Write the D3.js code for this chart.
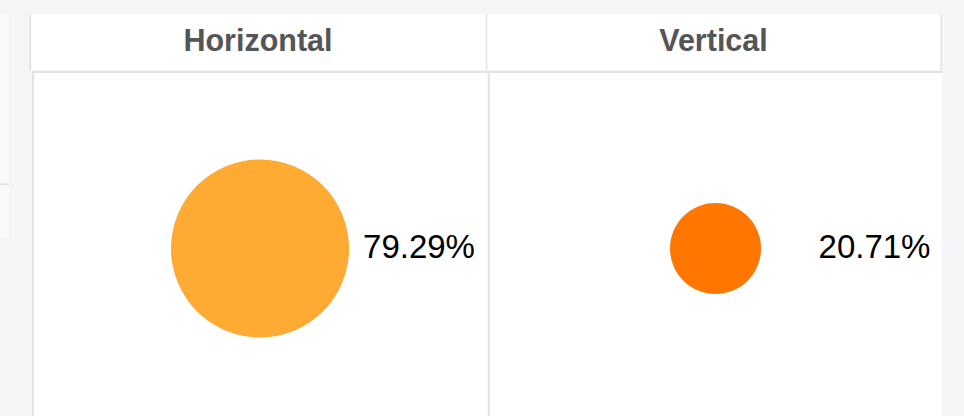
<!DOCTYPE html>
<html>
<head>
<meta charset="utf-8">
<script src="https://cdn.jsdelivr.net/npm/d3@7"></script>
<style>
  html, body { margin: 0; padding: 0; background: #f4f5f6; }
  svg { display: block; }
</style>
</head>
<body>
<div id="chart"></div>
<script>
// ---- data ----
const categories = ["Horizontal", "Vertical"];
const percents = [79.29, 20.71];
const colors = ["#FFAA33", "#FF7700"];
const labels = ["79.29%", "20.71%"];

const W = 964, H = 416;
const svg = d3.select("#chart").append("svg").attr("width", W).attr("height", H);

// page background
svg.append("rect").attr("width", W).attr("height", H).attr("fill", "#f4f5f6");

// partial left panel (cut off)
svg.append("rect").attr("x", 0).attr("y", 14).attr("width", 9).attr("height", 224).attr("fill", "#fafafa");
svg.append("rect").attr("x", 0).attr("y", 183.5).attr("width", 9).attr("height", 1.5).attr("fill", "#e2e2e2");

const x = d3.scaleBand().domain(categories).range([32.25, 943.25]).padding(0);
const r = d3.scaleSqrt().domain([0, 100]).range([0, 100]);
const maxR = r(d3.max(percents));

// header band
svg.append("rect").attr("x", 30).attr("y", 14).attr("width", 912).attr("height", 56).attr("fill", "#ffffff");
// body panel
svg.append("rect").attr("x", 32).attr("y", 71).attr("width", 910).attr("height", H - 71).attr("fill", "#ffffff");

// header borders
const lineCol = "#e3e3e3";
svg.append("rect").attr("x", 29.5).attr("y", 14).attr("width", 1.5).attr("height", 56).attr("fill", "#dcdcdc");
svg.append("rect").attr("x", 940.5).attr("y", 14).attr("width", 1.5).attr("height", 56).attr("fill", lineCol);
svg.selectAll(".hdiv").data(categories.slice(1)).enter().append("rect")
  .attr("x", d => x(d) - 2).attr("y", 14).attr("width", 1.5).attr("height", 56).attr("fill", lineCol);

// body borders
svg.append("rect").attr("x", 32).attr("y", 71).attr("width", 910).attr("height", 2).attr("fill", lineCol);
svg.append("rect").attr("x", 32).attr("y", 71).attr("width", 2).attr("height", H - 71).attr("fill", lineCol);
svg.selectAll(".bdiv").data(categories.slice(1)).enter().append("rect")
  .attr("x", d => x(d)).attr("y", 71).attr("width", 2).attr("height", H - 71).attr("fill", lineCol);

// header titles
svg.selectAll(".title").data(categories).enter().append("text")
  .attr("x", d => x(d) + x.bandwidth() / 2 - 2)
  .attr("y", 51)
  .attr("text-anchor", "middle")
  .attr("font-family", "'Liberation Sans', Arial, Helvetica, sans-serif")
  .attr("font-weight", "bold")
  .attr("font-size", 30.5)
  .attr("fill", "#555555")
  .text(d => d);

// circles
const cy = 248.5;
svg.selectAll(".bubble").data(categories).enter().append("circle")
  .attr("cx", d => x(d) + x.bandwidth() / 2)
  .attr("cy", cy)
  .attr("r", (d, i) => r(percents[i]))
  .attr("fill", (d, i) => colors[i]);

// value labels
svg.selectAll(".val").data(categories).enter().append("text")
  .attr("x", d => x(d) + x.bandwidth() / 2 + maxR + 14)
  .attr("y", 258.3)
  .attr("font-family", "'Liberation Sans', Arial, Helvetica, sans-serif")
  .attr("font-size", 33)
  .attr("fill", "#000000")
  .text((d, i) => labels[i]);
</script>
</body>
</html>
